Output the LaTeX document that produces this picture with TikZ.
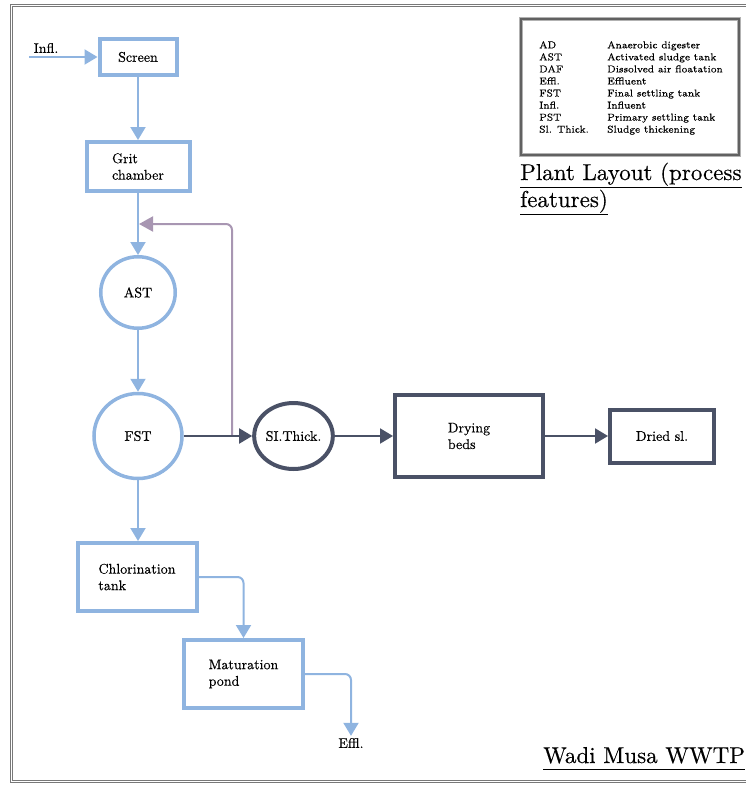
\documentclass[tikz,border=0pt]{standalone}
\usepackage{fontspec}
\setmainfont{lmroman10-regular.otf}[FakeBold=0.4]
\newfontfamily\wmsmall{lmroman7-regular.otf}[FakeBold=0.3]
\usepackage{xcolor}
\usepackage{tikz}
\usetikzlibrary{shapes.geometric, arrows.meta, calc}
\definecolor{WMBlue}{RGB}{143, 180, 224}
\definecolor{WMSlate}{RGB}{74, 81, 102}
\definecolor{WMMauve}{RGB}{168, 150, 178}
\definecolor{WMFrame}{RGB}{120, 120, 120}
\tikzset{
  wmlabel/.style={font=\fontsize{14}{16.5}\selectfont, align=left, inner sep=2pt},
  blueBox/.style={wmlabel, rectangle, draw=WMBlue, line width=4pt},
  blueTank/.style={wmlabel, ellipse, draw=WMBlue, line width=3.5pt, inner sep=0pt},
  slateBox/.style={wmlabel, rectangle, draw=WMSlate, line width=4pt},
  slateTank/.style={wmlabel, ellipse, draw=WMSlate, line width=4pt, inner sep=0pt},
  blueFlow/.style={draw=WMBlue, line width=2pt, rounded corners=6pt, -{Triangle[length=13pt, width=15pt]}},
  slateFlow/.style={draw=WMSlate, line width=2pt, -{Triangle[length=13pt, width=15pt]}},
  returnFlow/.style={draw=WMMauve, line width=2pt, rounded corners=6pt, -{Triangle[length=14pt, width=15pt]}},
  titleText/.style={font=\fontsize{23}{27}\selectfont, inner sep=0pt, anchor=base west},
}

\begin{document}
\begin{tikzpicture}[x=1pt, y=-1pt]
    \useasboundingbox (0,0) rectangle (746,785);
    \draw[WMFrame, line width=1pt, double distance=1pt] (11,5) rectangle (775,781);

    \node[draw=gray!60, double=black!62, line width=1pt, double distance=1.6pt,
          minimum width=218pt, minimum height=136pt] (legend) at (630,87) {};
    \node[anchor=base west, inner sep=0pt, font=\wmsmall\fontsize{10}{12.05}\selectfont] (abbr) at (539,48.3) {
      \begin{tabular}[t]{@{}p{68pt}@{}l@{}}
        AD & Anaerobic digester\\
        AST & Activated sludge tank\\
        DAF & Dissolved air floatation\\
        Effl. & Effluent\\
        FST & Final settling tank\\
        Infl. & Influent\\
        PST & Primary settling tank\\
        Sl. Thick. & Sludge thickening
      \end{tabular}};
    \node[titleText] (layout) at (520,180) {\underline{Plant Layout (process}};
    \node[titleText] (features) at (520,207) {\underline{features)}};
    \node[titleText] (site) at (543,763) {\underline{Wadi Musa WWTP\vphantom{y}}};

    \node[blueBox, minimum width=77pt, minimum height=36pt] (screen) at (138,57) {Screen};
    \node[blueBox, minimum width=103pt, minimum height=49pt] (grit) at (138,166.5) {Grit\\chamber};
    \node[blueTank, minimum width=74.5pt, minimum height=71.5pt] (ast) at (138,292.5) {AST};
    \node[blueTank, minimum width=88pt, minimum height=85pt] (fst) at (138,436) {FST};
    \node[blueBox, minimum width=119pt, minimum height=68pt] (chlor) at (137,577) {Chlorination\\tank};
    \node[blueBox, minimum width=119pt, minimum height=68pt] (matur) at (243.5,674) {Maturation\\pond};
    \node[slateTank, minimum width=73pt, minimum height=66pt] (thick) at (293.5,436) {SI.Thick.};
    \node[slateBox, minimum width=148pt, minimum height=82pt] (beds) at (469,436) {Drying\\beds};
    \node[slateBox, minimum width=104pt, minimum height=53pt] (dried) at (662,436) {Dried sl.};

    \node[wmlabel] (infl) at (46,48) {Infl.};
    \node[wmlabel] (effl) at (351,743) {Effl.};
    \coordinate (inflIn) at (29,57);
    \coordinate (split) at (232,436);
    \coordinate (recycleIn) at (139,224);

    \draw[blueFlow] (inflIn) -- (screen.west);
    \draw[blueFlow] (screen) -- (grit);
    \draw[blueFlow] (grit) -- (ast);
    \draw[blueFlow] (ast) -- (fst);
    \draw[blueFlow] (fst) -- (chlor.north -| fst);
    \draw[blueFlow] (chlor.east) -| (matur.north);
    \draw[blueFlow] (matur.east) -| (effl.north);
    \draw[returnFlow] (split) |- (recycleIn);
    \draw[slateFlow] (fst) -- (thick);
    \draw[slateFlow] (thick) -- (beds);
    \draw[slateFlow] (beds) -- (dried);
  \end{tikzpicture}
\end{document}
